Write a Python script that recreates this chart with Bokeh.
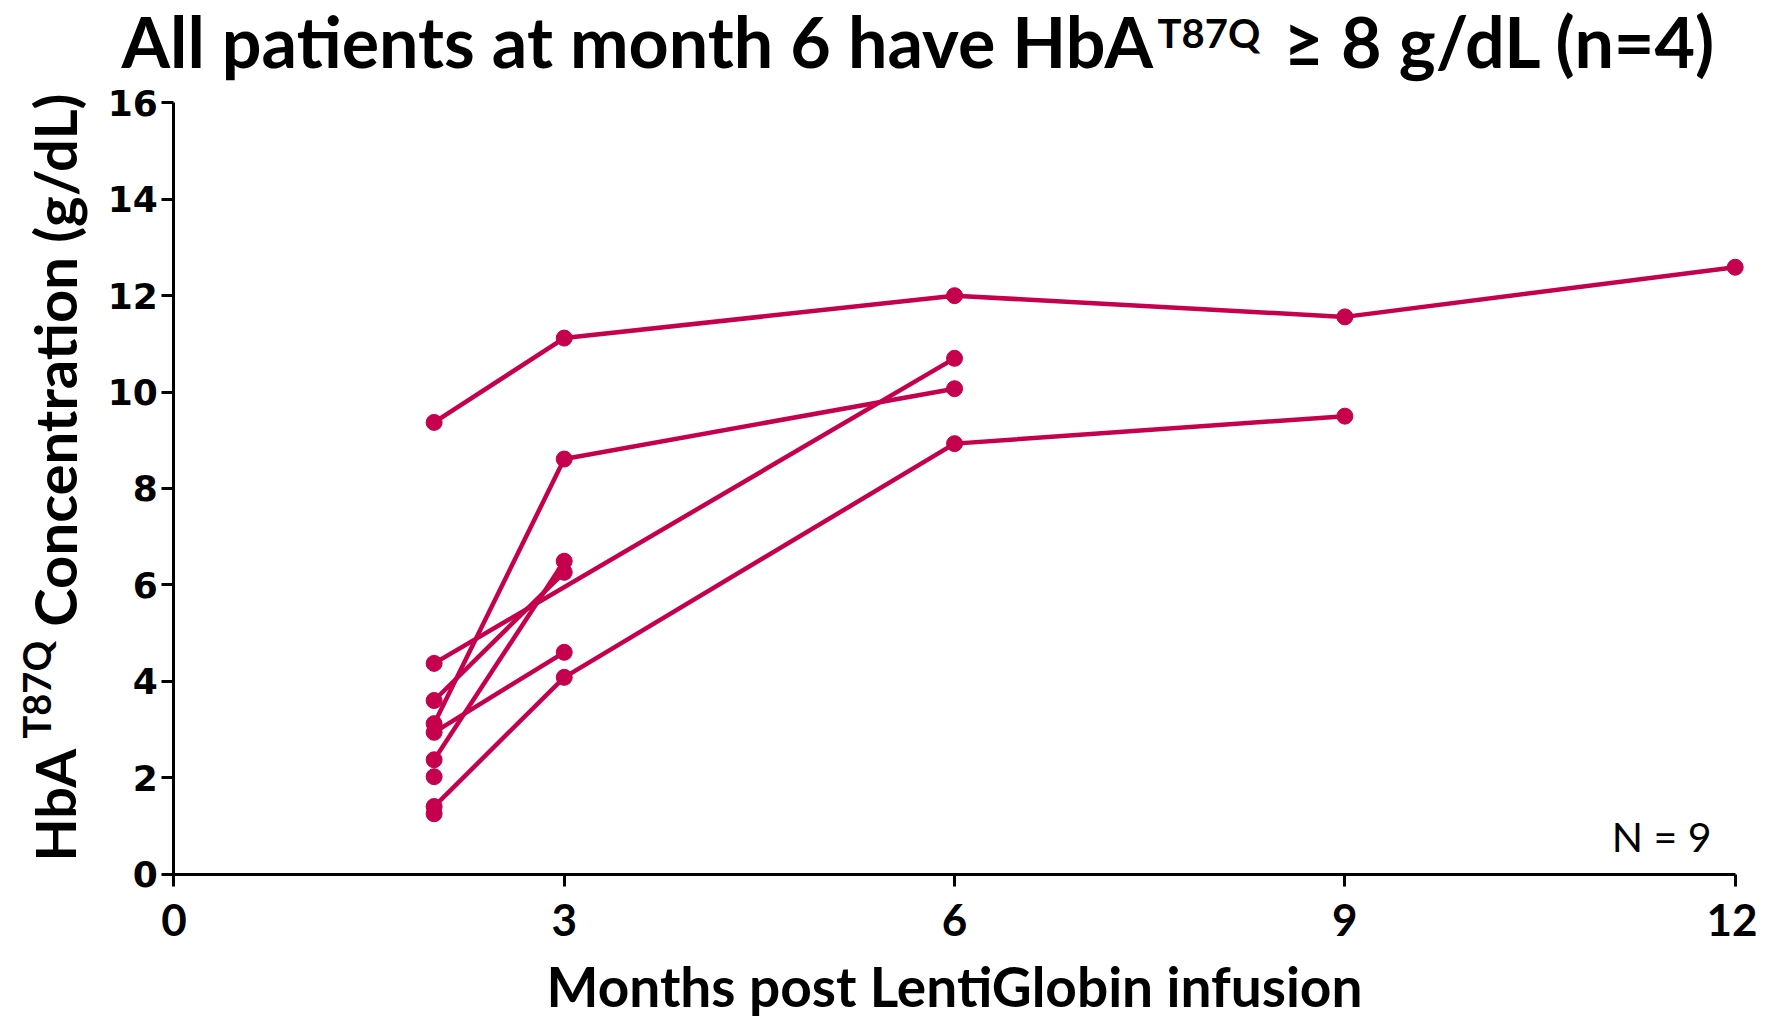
import math
from bokeh.plotting import figure
from bokeh.models import Range1d, Label, FixedTicker
from bokeh.embed import file_html
from bokeh.resources import INLINE

# ---- data (months post infusion, HbA T87Q g/dL) ----
p1_months = [2, 3, 6, 9, 12]
p1_hba = [9.37, 11.12, 12.0, 11.56, 12.59]
p2_months = [2, 3, 6]
p2_hba = [3.12, 8.61, 10.07]
p3_months = [2, 6]
p3_hba = [4.37, 10.70]
p4_months = [2, 3]
p4_hba = [3.60, 6.26]
p5_months = [2, 3]
p5_hba = [2.37, 6.49]
p6_months = [2, 3]
p6_hba = [2.94, 4.60]
p7_months = [2, 3, 6, 9]
p7_hba = [1.40, 4.08, 8.93, 9.50]
p8_months = [2]
p8_hba = [2.02]
p9_months = [2]
p9_hba = [1.25]

x_ticks = [0, 3, 6, 9, 12]
y_ticks = [0, 2, 4, 6, 8, 10, 12, 14, 16]

patients = [
    (p1_months, p1_hba), (p2_months, p2_hba), (p3_months, p3_hba),
    (p4_months, p4_hba), (p5_months, p5_hba), (p6_months, p6_hba),
    (p7_months, p7_hba), (p8_months, p8_hba), (p9_months, p9_hba),
]

COLOR = "#C5004C"
BOLD_FONT = "Lato"

# reference pixel positions of the axes corners (picture coordinates)
FX0, FX1, FY0, FY1 = 173.4, 1734.7, 873.5, 102.4
def dx(px):
    return (px - FX0) / (FX1 - FX0) * 12
def dy(py):
    return (FY0 - py) / (FY0 - FY1) * 16

W, H = 1757, 1019
p = figure(width=W, height=H, output_backend="svg", toolbar_location=None,
           x_range=Range1d(dx(0), dx(W)), y_range=Range1d(dy(H), dy(0)),
           min_border=0, min_border_left=0, min_border_right=0,
           min_border_top=0, min_border_bottom=0)
p.outline_line_color = None
p.grid.grid_line_color = None
p.background_fill_color = "white"
p.border_fill_color = "white"

for ax in (p.xaxis[0], p.yaxis[0]):
    ax.fixed_location = 0
    ax.axis_line_width = 3
    ax.axis_line_color = "black"
    ax.major_tick_line_width = 3
    ax.major_tick_line_color = "black"
    ax.major_tick_out = 12
    ax.major_tick_in = 0
    ax.minor_tick_line_color = None
    ax.major_label_text_color = "black"
    ax.major_label_text_font_style = "bold"

p.xaxis.bounds = (x_ticks[0], x_ticks[-1])
p.yaxis.bounds = (y_ticks[0], y_ticks[-1])
p.xaxis.ticker = FixedTicker(ticks=x_ticks)
p.yaxis.ticker = FixedTicker(ticks=y_ticks)
p.xaxis.major_label_text_font = BOLD_FONT
p.xaxis.major_label_text_font_size = "44px"
p.xaxis.major_label_standoff = 18
p.yaxis.major_label_text_font = "DejaVu Sans"
p.yaxis.major_label_text_font_size = "36px"
p.yaxis.major_label_standoff = 4

for months, hba in patients:
    if len(months) > 1:
        p.line(months, hba, line_color=COLOR, line_width=4.5)
    p.scatter(months, hba, size=16, fill_color=COLOR, line_color=COLOR)

def add_label(x, y, text, size, style="bold", align="left", baseline="alphabetic", angle=0.0):
    p.add_layout(Label(x=x, y=y, text=text, text_font=BOLD_FONT,
                       text_font_size=size, text_font_style=style,
                       text_align=align, text_baseline=baseline,
                       text_color="black", angle=angle))

# title
add_label(dx(121), dy(40), "All patients at month 6 have HbA", "70px")
add_label(dx(1157), dy(32), "T87Q", "40px")
add_label(dx(1283), dy(40), "\u2265 8 g/dL (n=4)", "70px")

# x axis label
add_label(dx(954), dy(985), "Months post LentiGlobin infusion", "55px", align="center")

# y axis label (rotated)
add_label(dx(54), dy(861), "HbA", "56px", angle=math.pi / 2)
add_label(dx(35), dy(738), "T87Q", "38px", angle=math.pi / 2)
add_label(dx(54), dy(93), "Concentration (g/dL)", "58px", align="right", angle=math.pi / 2)

# N annotation
add_label(dx(1711), dy(836), "N = 9", "41px", style="normal", align="right")

open("out.html", "w").write(file_html(p, INLINE))
